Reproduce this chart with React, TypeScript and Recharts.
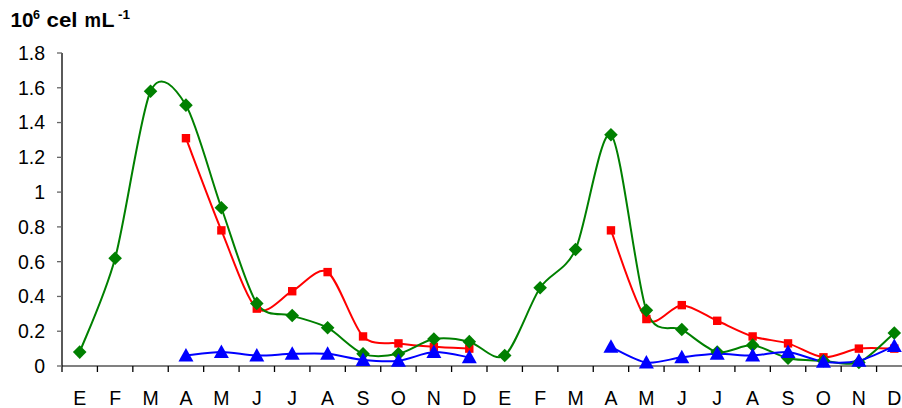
import React from 'react';
import { ComposedChart, Line, XAxis, YAxis } from 'recharts';

const months = ['E','F','M','A','M','J','J','A','S','O','N','D','E','F','M','A','M','J','J','A','S','O','N','D'];
const greenVals: (number | null)[] = [0.08,0.62,1.58,1.50,0.91,0.36,0.29,0.22,0.07,0.07,0.155,0.14,0.06,0.45,0.67,1.33,0.32,0.21,0.08,0.12,0.045,0.03,0.02,0.19];
const redVals: (number | null)[] = [null,null,null,1.31,0.78,0.33,0.43,0.54,0.17,0.13,0.11,0.10,null,null,null,0.78,0.27,0.35,0.26,0.17,0.13,0.05,0.10,0.10];
const blueVals: (number | null)[] = [null,null,null,0.06,0.08,0.06,0.07,0.07,0.035,0.03,0.08,0.05,null,null,null,0.11,0.02,0.05,0.07,0.06,0.08,0.025,0.03,0.115];
const yTicks = [0,0.2,0.4,0.6,0.8,1,1.2,1.4,1.6,1.8];
const boundaryTicks = Array.from({ length: 25 }, (_, i) => i);

const data = months.map((m, i) => ({ x: i + 0.5, m, g: greenVals[i], r: redVals[i], b: blueVals[i] }));

const CHART_W = 920;
const CHART_H = 408;
const MARGIN = { top: 53, right: 8, left: 0, bottom: 0 };
const Y_W = 62;
const X_H = 42;
const BAND = (CHART_W - MARGIN.left - MARGIN.right - Y_W) / 24;
const FONT = "'Liberation Sans', Arial, sans-serif";

// Catmull-Rom style smoothing (similar to spreadsheet smoothed lines)
const SMOOTH_K = 7;
const smoothCurve: any = (context: any) => {
  let pts: [number, number][] = [];
  return {
    areaStart() {},
    areaEnd() {},
    lineStart() { pts = []; },
    point(x: number, y: number) { pts.push([+x, +y]); },
    lineEnd() {
      const n = pts.length;
      if (!n) return;
      context.moveTo(pts[0][0], pts[0][1]);
      if (n === 1) { context.lineTo(pts[0][0], pts[0][1]); return; }
      for (let i = 0; i < n - 1; i++) {
        const p0 = pts[i - 1] || pts[i];
        const p1 = pts[i];
        const p2 = pts[i + 1];
        const p3 = pts[i + 2] || p2;
        const c1x = p1[0] + (p2[0] - p0[0]) / SMOOTH_K;
        const c1y = p1[1] + (p2[1] - p0[1]) / SMOOTH_K;
        const c2x = p2[0] - (p3[0] - p1[0]) / SMOOTH_K;
        const c2y = p2[1] - (p3[1] - p1[1]) / SMOOTH_K;
        context.bezierCurveTo(c1x, c1y, c2x, c2y, p2[0], p2[1]);
      }
    },
  };
};

const Diamond = (p: any) => {
  const { cx, cy, index } = p;
  if (cx == null || cy == null || p.value == null) return <g key={'d' + index} />;
  const s = 6.8;
  return <path key={'d' + index} d={`M${cx},${cy - s}L${cx + s},${cy}L${cx},${cy + s}L${cx - s},${cy}Z`} fill="#008000" />;
};
const Square = (p: any) => {
  const { cx, cy, index } = p;
  if (cx == null || cy == null || p.value == null) return <g key={'s' + index} />;
  const s = 4.2;
  return <rect key={'s' + index} x={cx - s} y={cy - s} width={2 * s} height={2 * s} fill="#ff0000" />;
};
const Triangle = (p: any) => {
  const { cx, cy, index } = p;
  if (cx == null || cy == null || p.value == null) return <g key={'t' + index} />;
  return <path key={'t' + index} d={`M${cx},${cy - 7.5}L${cx + 7.5},${cy + 6}L${cx - 7.5},${cy + 6}Z`} fill="#0000ff" />;
};

const XTick = (props: any) => {
  const { x, y, payload } = props;
  const i = payload.value;
  if (i >= months.length) return <g />;
  return (
    <text x={x + BAND / 2} y={y + 31} textAnchor="middle" fontSize={19.5} fontFamily={FONT} fill="#000">
      {months[i]}
    </text>
  );
};

export default function App() {
  return (
    <div style={{ position: 'absolute', left: 0, top: 0, width: 902, height: 408, overflow: 'hidden', background: '#fff' }}>
      <svg width={160} height={40} style={{ position: 'absolute', left: 0, top: 0, zIndex: 2 }}>
        <g fontFamily={FONT} fontWeight="bold" fill="#000">
          <text x={10.5} y={27} fontSize={20} textLength={23} lengthAdjust="spacingAndGlyphs">10</text>
          <text x={33} y={19} fontSize={12.5} textLength={7} lengthAdjust="spacingAndGlyphs">6</text>
          <text x={46.5} y={27} fontSize={20} textLength={31} lengthAdjust="spacingAndGlyphs">cel</text>
          <text x={84.5} y={27} fontSize={20} textLength={16.5} lengthAdjust="spacingAndGlyphs">m</text>
          <text x={101.5} y={27} fontSize={20} textLength={13} lengthAdjust="spacingAndGlyphs">L</text>
          <text x={118} y={19} fontSize={12.5} textLength={12} lengthAdjust="spacingAndGlyphs">-1</text>
        </g>
      </svg>
      <ComposedChart width={CHART_W} height={CHART_H} data={data} margin={MARGIN}>
        <XAxis
          dataKey="x"
          type="number"
          domain={[0, 24]}
          ticks={boundaryTicks}
          interval={0}
          height={X_H}
          allowDataOverflow
          axisLine={{ stroke: '#808080', strokeWidth: 2 }}
          tickLine={{ stroke: '#000', strokeWidth: 1.3 }}
          tickSize={6}
          tick={<XTick />}
        />
        <YAxis
          type="number"
          domain={[0, 1.8]}
          ticks={yTicks}
          interval={0}
          width={Y_W}
          axisLine={{ stroke: '#000', strokeWidth: 1.3 }}
          tickLine={{ stroke: '#666', strokeWidth: 1.3 }}
          tickSize={5}
          tickMargin={12}
          tick={{ fontSize: 19.5, fill: '#000', fontFamily: FONT }}
        />
        <Line dataKey="r" type={smoothCurve} stroke="#ff0000" strokeWidth={2} dot={Square} activeDot={false} connectNulls={false} isAnimationActive={false} />
        <Line dataKey="g" type={smoothCurve} stroke="#008000" strokeWidth={2} dot={Diamond} activeDot={false} connectNulls={false} isAnimationActive={false} />
        <Line dataKey="b" type={smoothCurve} stroke="#0000ff" strokeWidth={2} dot={Triangle} activeDot={false} connectNulls={false} isAnimationActive={false} />
      </ComposedChart>
    </div>
  );
}
